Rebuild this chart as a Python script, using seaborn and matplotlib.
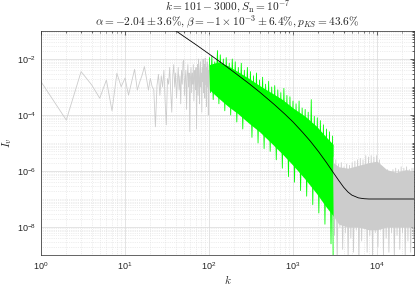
import numpy as np
import matplotlib
matplotlib.use('Agg')
import matplotlib.pyplot as plt
import matplotlib.ticker as mticker
import seaborn as sns

sns.set_theme(context='paper', style='white')
plt.rcParams['font.family'] = ['Liberation Sans', 'DejaVu Sans']
plt.rcParams['mathtext.fontset'] = 'cm'

# --- data (log10 of I_v) ---
# low-k part of the spectrum, one value per k = 1..100
k_low = list(range(1, 101))
logI_low = [-2.81, -4.18, -2.45, -2.92, -3.40, -2.75, -3.85, -2.51, -2.99, -2.68,
            -3.29, -2.81, -2.37, -3.11, -2.81, -2.57, -2.27, -2.69, -3.11, -2.69,
            -2.98, -3.10, -4.42, -2.95, -2.55, -3.30, -2.60, -3.00, -2.40, -3.50,
            -4.35, -2.70, -2.90, -2.30, -3.20, -3.90, -2.60, -2.20, -3.00, -2.50,
            -3.40, -2.80, -2.30, -3.10, -2.60, -3.60, -2.40, -2.90, -2.10, -2.05,
            -3.30, -2.70, -2.40, -3.80, -2.60, -2.20, -3.00, -2.50, -4.60, -2.70,
            -2.30, -3.20, -2.50, -2.90, -2.20, -3.50, -2.60, -2.40, -3.10, -2.30,
            -4.50, -2.80, -2.20, -3.30, -2.00, -2.70, -3.60, -2.40, -2.10, -3.00,
            -2.50, -3.90, -2.30, -2.80, -2.00, -3.20, -2.60, -2.20, -3.40, -1.97,
            -2.90, -2.30, -3.70, -2.50, -2.10, -3.00, -2.40, -4.00, -2.60, -2.20]

# fitted range k = 101..3000: dense band + spikes
k_fit_band = [101, 130, 170, 220, 300, 400, 550, 750, 1000, 1400, 1900, 2500, 3000]
fit_band_hi = [-2.20, -2.10, -2.25, -2.45, -2.70, -2.95, -3.20, -3.45, -3.75, -4.05, -4.40, -4.80, -5.05]
fit_band_lo = [-3.10, -3.40, -3.70, -3.95, -4.30, -4.60, -5.00, -5.40, -5.80, -6.30, -6.80, -7.30, -7.60]
k_fit_spk = [101, 104, 108, 112, 117, 121, 126, 131, 136, 142, 148, 154, 160, 167, 174,
             181, 189, 197, 205, 214, 223, 232, 242, 252, 263, 274, 286, 298, 311, 324,
             338, 352, 367, 383, 399, 416, 434, 452, 471, 491, 512, 534, 557, 580, 605,
             631, 658, 686, 715, 745, 777, 810, 845, 881, 918, 957, 998, 1040, 1085, 1131,
             1179, 1229, 1282, 1336, 1393, 1452, 1514, 1579, 1646, 1716, 1789, 1865, 1944,
             2027, 2113, 2203, 2297, 2395, 2497, 2603, 2714, 2829, 2950, 3000]
fit_spk = [-1.95, -3.20, -1.90, -3.45, -2.10, -2.90, -1.70, -3.60, -1.85, -3.00,
           -2.00, -3.85, -1.95, -3.30, -2.15, -4.00, -2.00, -3.50, -2.10, -4.25,
           -2.30, -3.60, -2.15, -4.50, -2.40, -3.90, -2.30, -4.10, -2.45, -4.80,
           -2.60, -4.20, -2.50, -5.00, -2.75, -4.40, -2.65, -5.20, -2.90, -4.60,
           -2.80, -5.30, -3.00, -4.80, -2.95, -5.60, -3.10, -5.00, -3.20, -5.90,
           -3.05, -5.20, -3.30, -6.20, -3.35, -5.50, -3.50, -6.40, -3.60, -5.80,
           -3.50, -6.70, -3.75, -6.00, -3.80, -6.90, -3.90, -6.30, -3.45, -7.20,
           -4.05, -6.60, -4.10, -7.50, -4.20, -6.90, -4.35, -7.90, -4.50, -7.30,
           -4.60, -8.60, -4.75, -9.50]

# high-k part (noise floor) k = 3000..27500
k_high_band = [3000, 3500, 4500, 6000, 8000, 10000, 13000, 17000, 22000, 27500]
high_band_hi = [-5.70, -5.85, -5.90, -5.80, -5.70, -5.65, -5.95, -6.05, -5.95, -6.00]
high_band_lo = [-7.60, -7.90, -8.00, -8.00, -8.10, -8.10, -8.00, -8.00, -8.00, -8.00]
k_high_spk = [3000, 3110, 3230, 3350, 3480, 3610, 3750, 3890, 4040, 4190, 4350, 4520,
              4690, 4870, 5050, 5240, 5440, 5650, 5860, 6080, 6310, 6550, 6800, 7060,
              7330, 7610, 7900, 8200, 8510, 8830, 9170, 9520, 9880, 10250, 10640, 11050,
              11470, 11900, 12350, 12820, 13310, 13820, 14340, 14890, 15450, 16040, 16650,
              17280, 17940, 18620, 19330, 20060, 20830, 21620, 22440, 23290, 24180, 25100,
              26050, 27040, 27500]
high_spk = [-5.50, -8.30, -5.60, -9.20, -5.75, -8.00, -5.70, -8.80, -5.85, -8.20,
            -5.75, -9.10, -5.80, -8.40, -5.70, -8.90, -5.65, -8.10, -5.60, -9.20,
            -5.55, -8.50, -5.60, -8.00, -5.45, -8.90, -5.50, -8.30, -5.45, -9.10,
            -5.50, -8.20, -5.45, -8.70, -5.60, -8.10, -5.85, -9.00, -6.00, -8.40,
            -5.95, -8.90, -6.05, -8.20, -5.95, -9.10, -5.90, -8.30, -5.95, -8.80,
            -5.85, -8.20, -5.90, -9.10, -5.85, -8.50, -5.95, -8.90, -5.90, -8.40, -5.90]

# fitted model curve
k_model = [30, 36, 50, 70, 100, 150, 200, 300, 400, 600, 800, 1000, 1300, 1600, 2000,
           2500, 3000, 3500, 4000, 4500, 5000, 6000, 7000, 8000, 10000, 15000, 20000, 27500]
logI_model = [-0.73, -0.89, -1.19, -1.49, -1.82, -2.20, -2.48, -2.88, -3.18, -3.63, -3.97,
              -4.25, -4.62, -4.93, -5.30, -5.70, -6.05, -6.34, -6.58, -6.75, -6.86, -6.96,
              -6.99, -7.00, -7.00, -7.00, -7.00, -7.00]

GRAY = '#cccccc'
GREEN = '#00ff00'

fig = plt.figure(figsize=(4.15, 2.86), dpi=100)
ax = fig.add_axes([0.0988, 0.1084, 0.8988, 0.7832])
ax.set_xscale('log')
ax.set_yscale('log')

p = lambda v: 10 ** np.asarray(v)

sns.lineplot(x=k_low, y=p(logI_low), color=GRAY, lw=0.6, estimator=None, sort=False, ax=ax)
ax.fill_between(k_high_band, p(high_band_lo), p(high_band_hi), color=GRAY, lw=0)
sns.lineplot(x=k_high_spk, y=p(high_spk), color=GRAY, lw=0.6, estimator=None, sort=False, ax=ax)
ax.fill_between(k_fit_band, p(fit_band_lo), p(fit_band_hi), color=GREEN, lw=0)
sns.lineplot(x=k_fit_spk, y=p(fit_spk), color=GREEN, lw=0.6, estimator=None, sort=False, ax=ax)
sns.lineplot(x=k_model, y=p(logI_model), color='black', lw=0.6, estimator=None, sort=False, ax=ax)

ax.set(xlim=(1, 27500), ylim=(1e-9, 1e-1))
ax.xaxis.set_major_locator(mticker.LogLocator(base=10, numticks=10))
ax.xaxis.set_minor_locator(mticker.LogLocator(base=10, subs=np.arange(2, 10), numticks=20))
ax.yaxis.set_major_locator(mticker.FixedLocator([1e-8, 1e-6, 1e-4, 1e-2]))
ax.yaxis.set_minor_locator(mticker.LogLocator(base=10, subs=np.arange(1, 10), numticks=20))
ax.yaxis.set_minor_formatter(mticker.NullFormatter())
ax.xaxis.set_minor_formatter(mticker.NullFormatter())

ax.grid(True, which='major', color='#d9d9d9', lw=0.5, ls='-')
ax.grid(True, which='minor', color='#dedede', lw=0.5, ls=':')
ax.set_axisbelow(True)
ax.tick_params(which='both', direction='in', top=True, right=True, colors='#262626',
               labelsize=6.5)
ax.tick_params(which='major', length=3, width=0.5)
ax.tick_params(which='minor', length=1.5, width=0.5)
for s in ax.spines.values():
    s.set_color('#262626')
    s.set_linewidth(0.5)

ax.set_xlabel(r'$k$', fontsize=8, labelpad=1)
ax.set_ylabel(r'$I_v$', fontsize=8, labelpad=2)
fig.text(0.5485, 1 - 10.5 / 286, r'$k = 101 - 3000, S_{\rm n} = 10^{-7}$',
         fontsize=8.2, ha='center', va='baseline')
fig.text(0.5485, 1 - 25.5 / 286,
         r'$\alpha = -2.04 \pm 3.6\%, \beta = -1 \times 10^{-3} \pm 6.4\%, p_{KS} = 43.6\%$',
         fontsize=8.2, ha='center', va='baseline')

fig.savefig('out.png', dpi=100)
